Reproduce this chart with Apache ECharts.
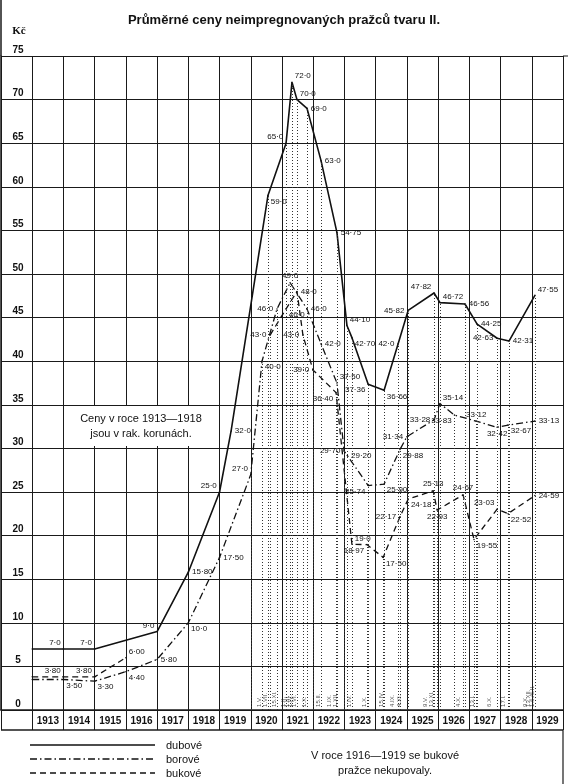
<!DOCTYPE html>
<html><head><meta charset="utf-8">
<script src="https://cdn.jsdelivr.net/npm/echarts@6/dist/echarts.min.js"></script>
<style>html,body{margin:0;padding:0;background:#fff}#c{width:568px;height:784px}</style>
</head><body><div id="c"></div>
<script>
// ---------- data ----------
const years = ['1913','1914','1915','1916','1917','1918','1919','1920','1921','1922','1923','1924','1925','1926','1927','1928','1929'];
const yMin = 0, yMax = 75, yStep = 5;

// dubové (solid)
const dubX = [1913.0,1914.0,1915.0,1917.0,1918.0,1919.0,1919.37,1920.55,1921.13,1921.32,1921.48,1921.80,1922.25,1922.76,1923.08,1923.24,1923.76,1924.27,1924.72,1925.04,1925.87,1926.06,1926.86,1927.25,1927.89,1928.27,1929.10];
const dubY = [7.0,7.0,7.0,9.0,15.80,25.0,32.0,59.0,65.0,72.0,70.0,69.0,63.0,54.75,44.10,42.70,37.36,36.66,42.0,45.82,47.82,46.72,46.56,44.25,42.63,42.31,47.55];
const dubTxt = ['','7·0','7·0','9·0','15·80','25·0','32·0','59·0','65·0','72·0','70·0','69·0','63·0','54·75','44·10','42·70','37·36','36·66','42·0','45·82','47·82','46·72','46·56','44·25','42·63','42·31','47·55'];

// borové (dash-dot)
const borX = [1913.0,1914.0,1915.0,1916.0,1917.0,1918.0,1919.0,1920.0,1920.36,1920.84,1921.26,1921.80,1922.25,1922.76,1922.99,1923.09,1923.76,1924.27,1924.78,1925.0,1925.87,1926.06,1926.52,1927.22,1927.89,1928.24,1929.10];
const borY = [3.5,3.5,3.3,4.4,5.8,10.0,17.5,27.0,40.0,46.0,49.0,46.0,42.0,37.5,29.7,29.2,25.74,25.9,29.88,31.34,33.28,35.14,33.83,33.12,32.42,32.67,33.13];
const borTxt = ['','3·50','3·30','4·40','5·80','10·0','17·50','27·0','40·0','46·0','49·0','46·0','42·0','37·50','29·70','29·20','25·74','25·90','29·88','31·34','33·28','35·14','33·83','33·12','32·42','32·67','33·13'];

// bukové (dashed) – not bought 1916–1919 (null = gap)
const bukX = [1913.0,1914.0,1915.0,1916.0,1918.0,1920.62,1921.13,1921.48,1921.67,1921.99,1922.73,1923.24,1923.72,1924.24,1924.78,1925.04,1925.84,1925.97,1926.80,1927.15,1927.89,1928.24,1929.10];
const bukY = [3.8,3.8,3.8,6.0,null,43.0,46.0,48.0,43.0,39.0,36.4,19.0,18.97,17.5,22.17,24.18,25.13,22.93,24.67,19.55,23.03,22.52,24.59];
const bukTxt = ['','3·80','3·80','6·00','','43·0','46·0','48·0','43·0','39·0','36·40','19·0','18·97','17·50','22·17','24·18','25·13','22·93','24·67','19·55','23·03','22·52','24·59'];

// dates of price changes (bottom, rotated)
const dateX = [1920.36,1920.55,1920.84,1921.13,1921.26,1921.38,1921.48,1921.80,1922.25,1922.60,1922.80,1923.24,1923.74,1924.27,1924.62,1924.85,1925.70,1925.87,1926.75,1927.20,1927.75,1928.20,1928.90,1929.0,1929.12];
const dateTxt = ['1.V.','1.VII.','15.XI.','1.II.','1.III.','1.IV.','1.VI.','1.X.','15.II.','1.IX.','1.XII.','1.IV.','1.X.','15.IV.','4.IX.','4.XI.','9.V.','13.XI.','4.X.','13.I.','6.X.','17.I.','9.X.','13.XII.','1.6./6.II.'];

// ---------- label placement (style) ----------
const dubPos = ['','tl','tl','tl','r','tl','r','br','tl','tr','tr','r','r','r','tr','br','bl','br','l','l','tl','tr','r','r','l','r','tr'];
const borPos = ['','br','br','br','r','br','r','tl','br','l','t','r','r','tr','l','r','bl','br','br','l','l','tr','bl','t','b','br','r'];
const bukPos = ['','tl','tl','tr','','l','br','r','l','l','bl','tr','bl','br','l','br','t','b','t','br','tl','br','r'];

function lab(p){
  switch(p){
    case 't': return {position:'top',distance:2};
    case 'b': return {position:'bottom',distance:2};
    case 'l': return {position:'left',distance:3};
    case 'r': return {position:'right',distance:3};
    case 'tl': return {position:'left',distance:2,offset:[0,-6]};
    case 'tr': return {position:'right',distance:2,offset:[0,-6]};
    case 'bl': return {position:'left',distance:2,offset:[0,6]};
    case 'br': return {position:'right',distance:2,offset:[0,6]};
  }
  return {};
}
const INK = '#111';
function mk(name, xs, ys, txt, pos, type, width){
  const data = xs.map((x,i)=>({
    value:[x, ys[i]===null ? '-' : ys[i]],
    label: txt[i] ? Object.assign({show:true, formatter:txt[i]}, lab(pos[i])) : {show:false}
  }));
  const ml = xs.map((x,i)=>[x, ys[i]]).filter(d=>d[0]>=1920 && d[1]!==null)
    .map(d=>[{coord:[d[0],0]},{coord:[d[0],d[1]]}]);
  return {
    type:'line', name, data, xAxisIndex:0, yAxisIndex:0,
    symbol:'circle', symbolSize:1.5, showSymbol:true, connectNulls:false,
    itemStyle:{color:INK},
    lineStyle:{color:INK, width, type},
    label:{fontSize:8, color:INK, fontFamily:'Liberation Sans'},
    emphasis:{disabled:true},
    markLine:{silent:true, symbol:['none','none'], label:{show:false},
      lineStyle:{type:[1,2], color:'#333', width:1}, data:ml, animation:false},
    z:3
  };
}

const chart = echarts.init(document.getElementById('c'), null, {renderer:'canvas'});
const FONT = 'Liberation Sans';
chart.setOption({
  animation:false,
  backgroundColor:'#fff',
  title:{text:'Průměrné ceny neimpregnovaných pražců tvaru II.', left:'center', top:9,
    textStyle:{fontSize:13, fontWeight:'bold', fontFamily:FONT, color:INK}},
  grid:{left:1, right:5, top:56, bottom:74, containLabel:false},
  xAxis:[
    {type:'value', min:1912, max:1930, interval:1, position:'bottom',
     axisLine:{show:true, lineStyle:{color:'#1a1a1a', width:1.5}},
     axisTick:{show:true, length:20, lineStyle:{color:'#1a1a1a', width:1}},
     axisLabel:{show:false},
     splitLine:{show:true, lineStyle:{color:'#1a1a1a', width:1}}},
    {type:'category', data:[''].concat(years), position:'bottom', boundaryGap:true,
     axisLine:{show:false}, axisTick:{show:false}, splitLine:{show:false},
     axisLabel:{interval:0, margin:6, fontSize:10, fontWeight:'bold', color:INK, fontFamily:FONT}}
  ],
  yAxis:{type:'value', min:yMin, max:yMax, interval:yStep,
    axisLine:{show:true, lineStyle:{color:'#1a1a1a', width:1.5}},
    axisTick:{show:false},
    splitLine:{show:true, lineStyle:{color:'#1a1a1a', width:1}},
    axisLabel:{inside:true, margin:17, align:'center', verticalAlign:'bottom', padding:[0,0,1,0],
      fontSize:10, fontWeight:'bold', color:INK, fontFamily:FONT}},
  series:[
    mk('dubové', dubX, dubY, dubTxt, dubPos, 'solid', 1.6),
    mk('borové', borX, borY, borTxt, borPos, [7,3,1.5,3], 1.3),
    mk('bukové', bukX, bukY, bukTxt, bukPos, [6,4], 1.3),
    {type:'scatter', xAxisIndex:0, yAxisIndex:0, silent:true, clip:false, z:4,
     data: dateX.map((x,i)=>({value:[x,0], label:{formatter:dateTxt[i]}})),
     symbolSize:0.1, itemStyle:{color:'rgba(0,0,0,0)'},
     label:{show:true, rotate:90, position:[0,-3], align:'left', verticalAlign:'bottom',
       fontSize:6, color:'#222', fontFamily:FONT}}
  ],
  graphic:[
    {type:'line', z:20, shape:{x1:1,y1:0,x2:1,y2:56}, style:{stroke:'#1a1a1a', lineWidth:1.5}},
    {type:'line', z:20, shape:{x1:563,y1:56,x2:568,y2:56}, style:{stroke:'#1a1a1a', lineWidth:1}},
    {type:'line', z:20, shape:{x1:1,y1:730,x2:563,y2:730}, style:{stroke:'#1a1a1a', lineWidth:1.5}},
    {type:'line', z:20, shape:{x1:563,y1:730,x2:563,y2:784}, style:{stroke:'#1a1a1a', lineWidth:1.2}},
    {type:'text', z:20, style:{text:'Kč', x:19, y:31, textAlign:'center', textVerticalAlign:'middle',
      font:'bold 11px "Liberation Serif"', fill:INK}},
    {type:'rect', z:10, shape:{x:64, y:406, width:153, height:40}, style:{fill:'#fff'}},
    {type:'text', z:11, style:{text:'Ceny v roce 1913—1918', x:141, y:419, textAlign:'center', textVerticalAlign:'middle',
      font:'11px "Liberation Sans"', fill:INK}},
    {type:'text', z:11, style:{text:'jsou v rak. korunách.', x:141, y:434, textAlign:'center', textVerticalAlign:'middle',
      font:'11px "Liberation Sans"', fill:INK}},
    {type:'line', z:20, shape:{x1:30,y1:745,x2:155,y2:745}, style:{stroke:INK, lineWidth:1.6}},
    {type:'line', z:20, shape:{x1:30,y1:759,x2:155,y2:759}, style:{stroke:INK, lineWidth:1.3, lineDash:[7,3,1.5,3]}},
    {type:'line', z:20, shape:{x1:30,y1:773,x2:155,y2:773}, style:{stroke:INK, lineWidth:1.3, lineDash:[6,4]}},
    {type:'text', z:20, style:{text:'dubové', x:166, y:746, textVerticalAlign:'middle', font:'11px "Liberation Sans"', fill:INK}},
    {type:'text', z:20, style:{text:'borové', x:166, y:760, textVerticalAlign:'middle', font:'11px "Liberation Sans"', fill:INK}},
    {type:'text', z:20, style:{text:'bukové', x:166, y:774, textVerticalAlign:'middle', font:'11px "Liberation Sans"', fill:INK}},
    {type:'text', z:20, style:{text:'V roce 1916—1919 se bukové', x:385, y:756, textAlign:'center', textVerticalAlign:'middle',
      font:'11px "Liberation Sans"', fill:INK}},
    {type:'text', z:20, style:{text:'pražce nekupovaly.', x:385, y:771, textAlign:'center', textVerticalAlign:'middle',
      font:'11px "Liberation Sans"', fill:INK}}
  ]
});
</script>
</body></html>
